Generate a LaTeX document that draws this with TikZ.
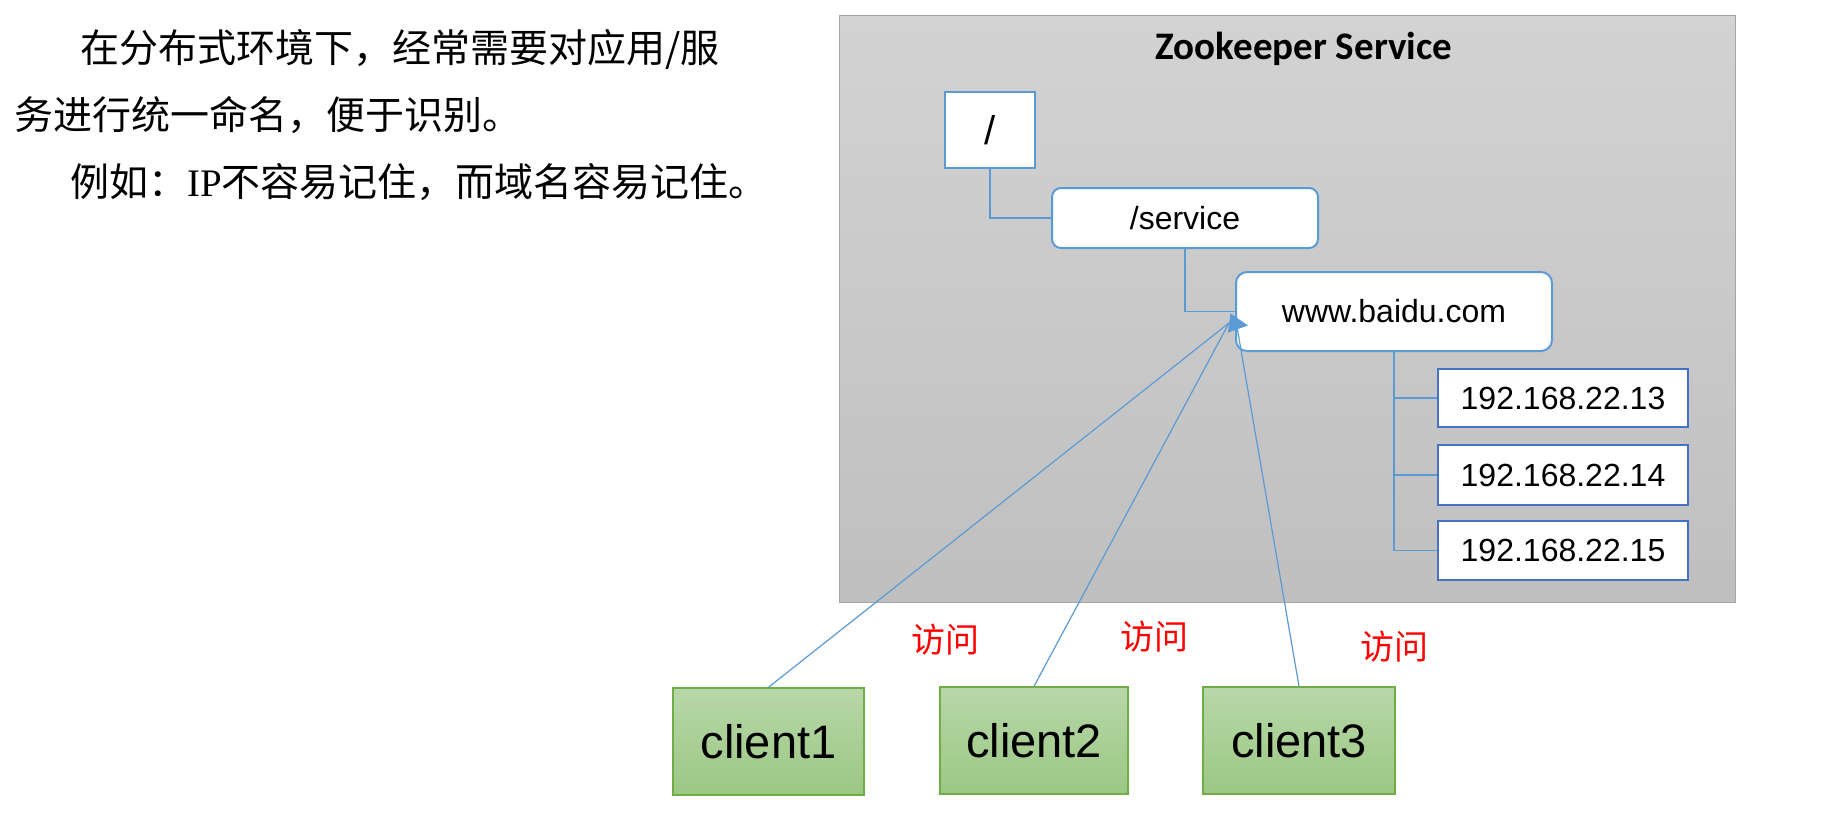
\documentclass[tikz,border=0pt]{standalone}
\usepackage{fontspec}
\setmainfont{Liberation Sans}
\newfontfamily\cjk{Noto Sans CJK SC}
\newfontfamily\ipserif{Liberation Serif}
\newfontfamily\titlefont{Carlito}
\usetikzlibrary{arrows.meta}
\definecolor{lineblue}{HTML}{5B9BD5}
\definecolor{ipblue}{HTML}{4472C4}
\definecolor{grayborder}{HTML}{A5A5A5}
\definecolor{graytop}{HTML}{D3D3D3}
\definecolor{graybot}{HTML}{BFBFBF}
\definecolor{greentop}{HTML}{B7D7A8}
\definecolor{greenbot}{HTML}{9CC784}
\definecolor{greenborder}{HTML}{70AD47}
\tikzset{
  zkbox/.style={draw=grayborder, line width=1pt, top color=graytop, bottom color=graybot, inner sep=0pt},
  rootbox/.style={draw=lineblue, fill=white, line width=2pt, inner sep=0pt, font=\fontsize{40}{44}\selectfont},
  roundbox/.style={draw=lineblue, fill=white, line width=2pt, rounded corners=9pt, inner sep=0pt, font=\fontsize{32}{38}\selectfont},
  ipbox/.style={draw=ipblue, fill=white, line width=2pt, inner sep=0pt, minimum width=250pt, font=\fontsize{32}{38}\selectfont},
  clientbox/.style={draw=greenborder, line width=1.5pt, top color=greentop, bottom color=greenbot, inner sep=0pt, font=\fontsize{47}{52}\selectfont},
  conn/.style={draw=lineblue, line width=1.3pt},
  access/.style={draw=lineblue, line width=1.2pt},
  accesstip/.style={access, -{Triangle[length=19pt, width=19pt]}},
  redlabel/.style={text=red, inner sep=0pt, font=\cjk\fontsize{34}{40}\selectfont},
  lefttext/.style={anchor=west, inner sep=0pt, font=\cjk\fontsize{39}{45}\selectfont}
}
\begin{document}
\begin{tikzpicture}[x=1pt, y=-1pt]
\useasboundingbox[fill=white] (0,0) rectangle (1841,831);

% left text
\node[lefttext] (t1) at (80,49) {在分布式环境下，经常需要对应用/服};
\node[lefttext] (t2) at (14,115) {务进行统一命名，便于识别。};
\node[lefttext] (t3) at (70,182) {例如：{\ipserif IP}不容易记住，而域名容易记住。};

% zookeeper service box
\node[zkbox, minimum width=896pt, minimum height=587pt] (zk) at (1287,308.5) {};
\node[inner sep=0pt, font=\titlefont\bfseries\fontsize{39}{44}\selectfont] (title) at (1304,49) {Zookeeper Service};

\node[rootbox, minimum width=90pt, minimum height=76pt] (root) at (990,130) {/};
\node[roundbox, minimum width=266pt, minimum height=60pt] (service) at (1185,218) {/service};
\node[roundbox, minimum width=316pt, minimum height=79pt, rounded corners=11pt] (www) at (1394,311.5) {www.baidu.com};

\node[ipbox, minimum height=58pt] (ip1) at (1563,398) {192.168.22.13};
\node[ipbox, minimum height=60pt] (ip2) at (1563,475) {192.168.22.14};
\node[ipbox, minimum height=59pt] (ip3) at (1563,550.5) {192.168.22.15};

\draw[conn] (root.south) |- (service.west);
\draw[conn] (service.south) |- (www.west);
\draw[conn] (www.south) |- (ip1.west);
\draw[conn] (www.south) |- (ip2.west);
\draw[conn] (www.south) |- (ip3.west);

% clients
\node[clientbox, minimum width=191pt, minimum height=107pt] (c1) at (768.5,741.5) {client1};
\node[clientbox, minimum width=188pt, minimum height=107pt] (c2) at (1034,740.5) {client2};
\node[clientbox, minimum width=192pt, minimum height=107pt] (c3) at (1299,740.5) {client3};

\coordinate (conv) at (1229,323);
\coordinate (conv3) at (1237,327);
\coordinate (tip) at (1248,325.5);
\draw[access] (c3.north) -- (conv3);
\draw[access] (c2.north) -- (conv);
\draw[accesstip] (c1.north) -- (conv) -- (tip);

\node[redlabel] (l1) at (945,640) {访问};
\node[redlabel] (l2) at (1154,637) {访问};
\node[redlabel] (l3) at (1394,647) {访问};
\end{tikzpicture}
\end{document}
